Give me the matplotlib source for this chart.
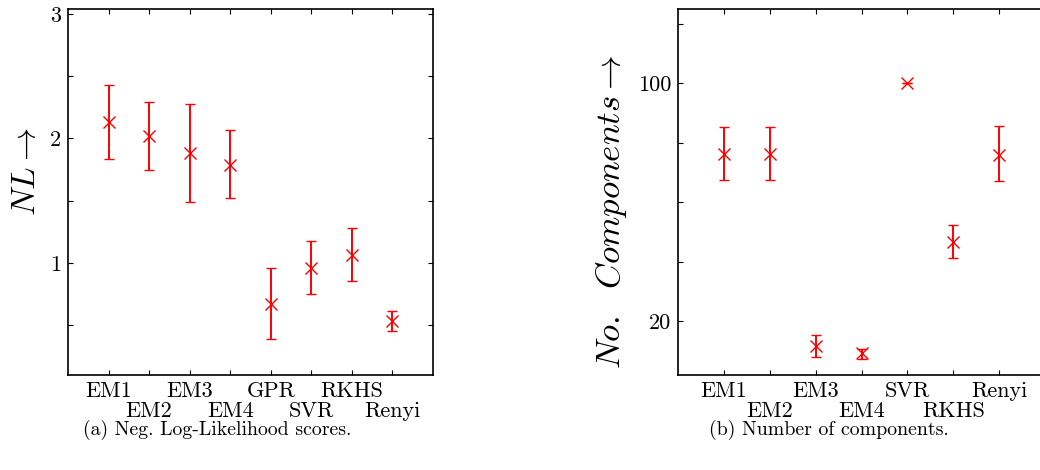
import matplotlib
matplotlib.use('Agg')
import matplotlib.pyplot as plt
import matplotlib.transforms as mtransforms
import numpy as np

plt.rcParams['font.family'] = 'serif'
plt.rcParams['font.serif'] = ['cmr10']
plt.rcParams['mathtext.fontset'] = 'cm'
plt.rcParams['axes.formatter.use_mathtext'] = True

# (a) negative log-likelihood
nl_methods = ['EM1', 'EM2', 'EM3', 'EM4', 'GPR', 'SVR', 'RKHS', 'Renyi']
nl_mean = [2.135, 2.02, 1.886, 1.79, 0.67, 0.962, 1.064, 0.534]
nl_low = [1.835, 1.75, 1.49, 1.52, 0.387, 0.753, 0.855, 0.456]
nl_high = [2.43, 2.29, 2.28, 2.07, 0.957, 1.177, 1.279, 0.617]

# (b) number of components
nc_methods = ['EM1', 'EM2', 'EM3', 'EM4', 'SVR', 'RKHS', 'Renyi']
nc_mean = [61.9, 62.0, 16.9, 16.1, 100.0, 34.2, 61.6]
nc_low = [51.9, 51.9, 15.7, 15.5, 100.0, 30.7, 51.7]
nc_high = [74.1, 74.1, 18.2, 16.6, 100.0, 38.2, 74.6]

red = '#ff0000'
W, H = 1040, 470
fig = plt.figure(figsize=(W / 100, H / 100), dpi=100)


def style(ax):
    ax.tick_params(direction='in', length=3.5, width=0.8, top=True, right=True,
                   labelsize=16, pad=5)
    ax.tick_params(axis='x', pad=5)
    for s in ax.spines.values():
        s.set_linewidth(1.2)
    # second row of staggered x labels
    down = mtransforms.ScaledTranslation(0, -20 / 100, fig.dpi_scale_trans)
    for i, t in enumerate(ax.get_xticklabels()):
        if i % 2 == 1:
            t.set_transform(t.get_transform() + down)


def draw(ax, mean, low, high):
    x = np.arange(1, len(mean) + 1)
    m = np.array(mean)
    err = np.vstack([m - np.array(low), np.array(high) - m])
    ax.errorbar(x, m, yerr=err, fmt='x', color=red, ecolor=red, elinewidth=1.4,
                capsize=3.5, capthick=1.4, markersize=8, markeredgewidth=1.0)
    return x


# left panel
ax1 = fig.add_axes([68 / W, 95 / H, 365 / W, 366 / H])
x1 = draw(ax1, nl_mean, nl_low, nl_high)
ax1.set_xlim(0, len(nl_methods) + 1)
ax1.set_ylim(0.1, 3.04)
ax1.set_xticks(x1)
ax1.set_xticklabels(nl_methods)
ax1.set_yticks([0.5, 1, 1.5, 2, 2.5, 3])
ax1.set_yticklabels(['', '1', '', '2', '', '3'])
style(ax1)
ax1.set_ylabel(r'$NL\rightarrow$', fontsize=24)
ax1.yaxis.set_label_coords(-0.075, 0.556)

# right panel (log scale)
ax2 = fig.add_axes([678 / W, 95 / H, 367 / W, 366 / H])
x2 = draw(ax2, nc_mean, nc_low, nc_high)
ax2.set_yscale('log')
ax2.set_xlim(0, len(nc_methods) + 1)
ax2.set_ylim(13.9, 165)
ax2.set_xticks(x2)
ax2.set_xticklabels(nc_methods)
yt = [20 * 5 ** (k / 4) for k in range(6)]
ax2.set_yticks(yt)
ax2.set_yticklabels(['20', '', '', '', '100', ''])
ax2.yaxis.set_minor_locator(matplotlib.ticker.NullLocator())
style(ax2)
ax2.set_ylabel(r'$No.\ \ Components\rightarrow$', fontsize=25)
ax2.yaxis.set_label_coords(-0.134, 0.447)

fig.text(217 / W, 1 - 430 / H, '(a) Neg. Log-Likelihood scores.', ha='center',
         va='center', fontsize=14.3)
fig.text(829 / W, 1 - 430 / H, '(b) Number of components.', ha='center',
         va='center', fontsize=14.3)

fig.savefig('out.png', dpi=100)
